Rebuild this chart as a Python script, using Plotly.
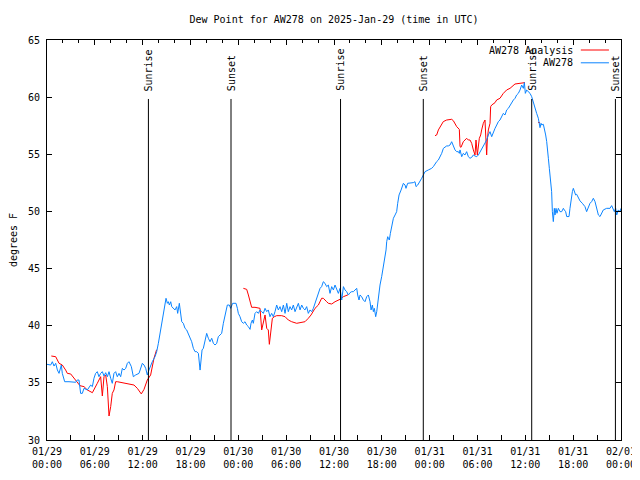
import pandas as pd
import plotly.graph_objects as go

START = "2025-01-29 00:00"
END = "2025-02-01 00:00"
TITLE = "Dew Point for AW278 on 2025-Jan-29 (time in UTC)"
Y_TITLE = "degrees F"

# Observed AW278 dew point: hours after 2025-01-29 00:00 UTC, degrees F
obs_hours = [0.0, 0.46, 0.67, 0.88, 1.09, 1.30, 1.51, 1.71, 1.80, 1.92, 2.22, 2.76, 3.39, 3.60, 3.80, 4.01,
             4.22, 4.43, 4.64, 5.06, 5.48, 5.69, 5.89, 6.10, 6.31, 6.52, 6.73, 6.94, 7.15, 7.36, 7.57, 7.78,
             7.99, 8.19, 8.40, 8.61, 8.82, 9.03, 9.24, 9.45, 9.66, 9.87, 10.08, 10.28, 10.58, 10.83, 11.12,
             11.54, 11.96, 12.17, 12.38, 12.58, 12.79, 13.00, 13.21, 13.55, 13.76, 13.97, 14.18, 14.39,
             14.60, 14.81, 14.93, 15.10, 15.22, 15.35, 15.52, 15.64, 15.85, 16.06, 16.27, 16.39, 16.60,
             16.69, 16.90, 17.10, 17.31, 17.52, 17.73, 17.94, 18.15, 18.36, 18.57, 18.78, 18.99, 19.20,
             19.32, 19.45, 19.61, 19.82, 20.03, 20.24, 20.45, 20.66, 20.87, 21.08, 21.29, 21.49, 21.70,
             21.91, 22.12, 22.33, 22.62, 22.87, 23.04, 23.29, 23.71, 23.88, 24.00, 24.21, 24.42, 24.63,
             24.84, 25.05, 25.26, 25.47, 25.59, 25.76, 25.88, 26.09, 26.30, 26.51, 26.72, 26.93, 27.14,
             27.35, 27.56, 27.76, 27.97, 28.18, 28.39, 28.60, 28.81, 29.02, 29.23, 29.44, 29.65, 29.86,
             30.07, 30.27, 30.48, 30.69, 30.90, 31.11, 31.32, 31.53, 31.74, 31.95, 32.16, 32.36, 32.57,
             32.78, 32.99, 33.20, 33.41, 33.62, 33.83, 34.04, 34.25, 34.45, 34.66, 34.87, 35.08, 35.29,
             35.50, 35.71, 35.92, 36.13, 36.34, 36.55, 36.76, 36.97, 37.18, 37.38, 37.59, 37.80, 38.01,
             38.22, 38.43, 38.72, 38.85, 38.97, 39.14, 39.27, 39.47, 39.68, 39.89, 40.10, 40.31, 40.52,
             40.65, 40.81, 40.94, 41.06, 41.23, 41.36, 41.56, 41.77, 41.98, 42.19, 42.40, 42.53, 42.61,
             42.74, 42.82, 42.94, 43.07, 43.24, 43.45, 43.66, 43.86, 43.99, 44.16, 44.41, 44.70, 44.91,
             45.03, 45.24, 45.54, 45.95, 46.16, 46.29, 46.50, 46.79, 47.00, 47.21, 47.42, 47.84, 48.25,
             48.46, 48.67, 48.88, 49.09, 49.30, 49.51, 49.72, 49.93, 50.13, 50.34, 50.55, 50.76, 50.89,
             50.97, 51.18, 51.39, 51.60, 51.72, 51.81, 52.02, 52.22, 52.43, 52.64, 52.85, 53.06, 53.27,
             53.48, 53.69, 53.90, 54.11, 54.32, 54.52, 54.73, 54.94, 55.15, 55.36, 55.57, 55.78, 55.99,
             56.20, 56.41, 56.61, 56.82, 57.03, 57.24, 57.45, 57.66, 57.87, 58.08, 58.29, 58.50, 58.71,
             58.91, 59.12, 59.33, 59.54, 59.75, 59.88, 60.00, 60.17, 60.38, 60.59, 60.80, 61.01, 61.22,
             61.42, 61.63, 61.76, 61.84, 61.97, 62.05, 62.26, 62.38, 62.55, 62.68, 62.80, 62.89, 63.01,
             63.10, 63.22, 63.30, 63.39, 63.51, 63.64, 63.72, 63.85, 63.97, 64.14, 64.35, 64.56, 64.77,
             64.89, 65.06, 65.19, 65.48, 65.60, 65.73, 65.90, 66.02, 66.15, 66.31, 66.44, 66.65, 66.86,
             67.15, 67.48, 67.69, 67.90, 68.11, 68.32, 68.53, 68.74, 68.95, 69.16, 69.37, 69.58, 69.78,
             70.20, 70.62, 70.83, 71.04, 71.16, 71.33, 71.46, 71.67, 71.88, 72.00]
obs_dewpt = [36.62, 36.56, 36.85, 36.47, 36.71, 36.13, 35.83, 36.27, 36.56, 35.83, 35.10, 35.10, 35.10, 35.05,
             35.25, 35.25, 34.08, 34.08, 34.52, 34.38, 34.81, 34.67, 35.40, 35.83, 35.98, 35.54, 35.83,
             35.98, 35.60, 35.89, 35.54, 35.98, 35.40, 34.96, 35.83, 35.98, 35.54, 35.83, 35.54, 36.27,
             36.12, 36.27, 36.71, 36.85, 36.42, 35.54, 35.69, 35.83, 36.71, 36.56, 36.27, 35.69, 36.12,
             36.56, 36.85, 37.29, 37.73, 38.46, 39.33, 40.21, 41.08, 41.96, 42.40, 41.96, 42.10, 41.81,
             42.10, 41.67, 41.52, 41.38, 41.67, 41.08, 41.96, 41.38, 40.35, 40.21, 39.77, 39.63, 39.33,
             39.04, 38.60, 38.02, 37.73, 37.73, 37.58, 36.12, 37.00, 37.88, 38.02, 38.60, 39.33, 38.90,
             38.60, 38.90, 38.46, 38.31, 38.46, 39.04, 39.19, 39.33, 40.21, 40.94, 41.81, 41.81, 41.52,
             41.96, 41.96, 41.52, 41.08, 40.79, 40.35, 40.21, 40.35, 40.06, 39.92, 39.68, 40.21, 40.50,
             40.21, 41.08, 41.23, 41.08, 41.38, 41.23, 41.08, 41.52, 41.23, 41.38, 40.79, 41.08, 40.79,
             41.23, 41.81, 41.38, 41.67, 41.23, 41.81, 41.08, 41.96, 41.23, 41.67, 41.38, 41.81, 41.23,
             41.67, 41.96, 41.38, 41.81, 41.52, 41.38, 41.67, 41.08, 41.38, 41.23, 41.52, 41.96, 42.54,
             42.98, 43.27, 43.42, 43.85, 43.71, 43.42, 43.56, 42.83, 43.42, 43.13, 43.56, 43.13, 42.83,
             43.27, 42.25, 43.42, 43.13, 42.98, 42.69, 42.89, 42.98, 42.98, 43.13, 43.27, 42.69, 42.25,
             42.69, 42.54, 42.25, 42.10, 42.54, 42.69, 42.10, 41.38, 41.81, 41.23, 41.52, 40.79, 41.23,
             42.54, 43.56, 44.29, 45.17, 45.75, 46.63, 47.35, 47.79, 47.65, 47.50, 48.08, 48.67, 49.40,
             49.69, 49.98, 50.71, 51.44, 51.87, 52.46, 52.31, 52.02, 52.46, 52.46, 52.52, 52.60, 52.17,
             52.31, 52.60, 52.90, 53.19, 53.48, 53.63, 53.77, 53.92, 54.21, 54.36, 54.50, 54.79, 55.08,
             55.52, 55.67, 55.73, 55.73, 55.81, 56.10, 55.81, 55.67, 55.38, 55.23, 55.23, 55.08, 55.38,
             54.79, 55.08, 54.94, 55.23, 54.79, 54.65, 54.73, 54.94, 54.85, 54.79, 54.94, 55.23, 55.38,
             55.67, 56.10, 56.25, 56.69, 56.98, 56.54, 56.98, 57.27, 57.56, 57.85, 58.00, 58.29, 58.58,
             58.44, 58.88, 59.02, 59.31, 59.46, 59.75, 59.90, 60.19, 60.33, 60.62, 61.06, 60.77, 61.27,
             60.33, 60.62, 60.48, 60.33, 60.04, 59.46, 59.02, 58.58, 58.15, 57.42, 57.33, 57.71, 57.57,
             57.62, 57.27, 56.69, 56.11, 55.52, 54.65, 53.77, 53.19, 52.61, 51.73, 49.98, 49.11, 50.27,
             49.69, 50.27, 49.84, 50.27, 49.98, 49.98, 50.27, 50.13, 49.98, 49.55, 49.55, 50.27, 51.15,
             51.73, 52.02, 51.73, 51.44, 51.50, 51.15, 50.92, 50.71, 50.42, 49.98, 50.42, 50.71, 50.86,
             51.15, 50.86, 50.27, 49.69, 49.55, 49.84, 50.13, 50.27, 50.27, 50.51, 50.13, 49.98, 50.27,
             49.69, 50.13, 49.98, 50.27]

# AW278 Analysis dew point (None marks gaps)
ana_hours = [0.54, 1.09, 1.51, 1.92, 2.34, 2.55, 2.97, 3.39, 3.80, 4.14, 4.64, 5.06, 5.69, 5.89, 6.31, 6.73,
             6.94, 7.15, 7.36, 7.57, 7.78, 7.99, 8.19, 8.40, 8.61, 8.82, 9.45, 10.49, 10.91, 11.33, 11.83,
             12.17, 12.58, 13.00, 13.21, 13.42, 13.75, None,
             24.63, 25.05, 25.26, 25.47, 25.67, 26.09, 26.51, 26.72, 26.93, 27.14, 27.35, 27.56, 27.76,
             27.89, 28.10, 28.27, 28.52, 28.81, 29.44, 29.86, 30.27, 30.69, 31.32, 31.74, 32.16, 32.36,
             32.78, 33.12, 33.62, 34.04, 34.45, 34.66, 35.08, 35.29, 35.71, 36.13, 36.76, 37.17, 37.75, None,
             48.67, 48.88, 49.09, 49.30, 49.51, 49.71, 50.13, 50.76, 50.97, 51.39, 51.72, 51.81, 51.93,
             52.22, 52.64, 52.85, 53.06, 53.27, 53.48, 53.69, 53.81, 53.98, 54.23, 54.40, 54.52, 54.73,
             54.94, 55.07, 55.15, 55.23, 55.36, 55.57, 55.65, 55.78, 56.20, 56.40, 56.82, 57.24, 57.66,
             58.08, 58.70, 59.33, 59.96, None,
             61.60, 61.85]
ana_dewpt = [37.35, 37.29, 36.71, 36.56, 36.12, 35.83, 35.78, 35.40, 35.10, 34.75, 34.67, 34.38, 34.14, 34.38,
             34.96, 35.54, 33.85, 35.54, 35.69, 34.67, 32.10, 32.92, 34.08, 34.38, 35.10, 35.10, 35.02,
             34.87, 34.81, 34.52, 34.03, 34.43, 35.25, 35.69, 36.42, 37.15, 37.90, None,
             43.27, 43.18, 42.69, 42.10, 41.61, 41.61, 41.52, 41.52, 39.63, 40.35, 40.94, 39.77, 39.63,
             38.37, 39.63, 40.65, 40.79, 40.88, 40.88, 40.79, 40.50, 40.35, 40.21, 40.27, 40.35, 40.35,
             40.65, 40.94, 41.52, 41.81, 42.40, 42.40, 42.10, 41.96, 41.90, 42.10, 42.31, 42.54, 42.70, None,
             56.63, 56.69, 57.13, 57.42, 57.71, 57.86, 58.00, 58.06, 57.94, 57.42, 57.18, 55.67, 55.61,
             56.10, 56.40, 56.25, 56.25, 55.96, 55.38, 54.94, 56.25, 54.94, 56.40, 56.69, 57.13, 57.71,
             58.00, 55.96, 54.94, 56.25, 57.13, 57.71, 59.17, 59.31, 59.52, 59.75, 59.90, 60.33, 60.63,
             60.77, 61.15, 61.21, 61.27, None,
             57.80, 57.75]

sun_labels = ["Sunrise", "Sunset", "Sunrise", "Sunset", "Sunrise", "Sunset"]
sun_hours = [12.72, 23.08, 36.82, 47.20, 60.80, 71.30]

series_names = ["AW278 Analysis", "AW278"]
series_colors = ["#ff0000", "#0a84ff"]

base = pd.Timestamp(START)


def to_time(hours):
    return [None if h is None else base + pd.Timedelta(hours=h) for h in hours]


FONT = "DejaVu Sans Mono"
HOUR_MS = 3600000

fig = go.Figure()
fig.add_trace(go.Scatter(x=to_time(ana_hours), y=ana_dewpt, mode="lines", name=series_names[0],
                         line=dict(color=series_colors[0], width=1), connectgaps=False, showlegend=False))
fig.add_trace(go.Scatter(x=to_time(obs_hours), y=obs_dewpt, mode="lines", name=series_names[1],
                         line=dict(color=series_colors[1], width=1), showlegend=False))
# helper trace so the top (x2) axis is drawn
fig.add_trace(go.Scatter(x=[START, END], y=[None, None], xaxis="x2", mode="lines",
                         showlegend=False, hoverinfo="skip"))

YMIN, YMAX = 30, 65
LINE_TOP = 59.84

shapes = []
annotations = []
for lab, h in zip(sun_labels, sun_hours):
    t = base + pd.Timedelta(hours=h)
    shapes.append(dict(type="line", xref="x", yref="y", x0=t, x1=t, y0=YMIN, y1=LINE_TOP,
                       line=dict(color="black", width=1)))
    annotations.append(dict(x=t, y=60.35, xref="x", yref="y", text=lab, textangle=-90,
                            showarrow=False, xanchor="center", yanchor="bottom",
                            font=dict(family=FONT, size=10, color="black")))

# gnuplot-style key (text left, sample line right)
key_y = [0.975, 0.943]
for name, col, ky in zip(series_names, series_colors, key_y):
    annotations.append(dict(x=0.919, y=ky, xref="paper", yref="paper", text=name, showarrow=False,
                            xanchor="right", yanchor="middle", font=dict(family=FONT, size=10, color="black")))
    shapes.append(dict(type="line", xref="paper", yref="paper", x0=0.930, x1=0.979, y0=ky, y1=ky,
                       line=dict(color=col, width=1)))

# the page adds an 8px body margin, so the figure margins are reduced by 8px
fig.update_layout(
    width=640, height=480,
    margin=dict(l=39, r=27, t=32, b=48),
    paper_bgcolor="white", plot_bgcolor="white",
    font=dict(family=FONT, size=10, color="black"),
    title=dict(text=TITLE, x=0.5, xref="paper", xanchor="center", y=0.977, yanchor="middle",
               font=dict(family=FONT, size=10, color="black")),
    shapes=shapes, annotations=annotations,
    xaxis=dict(type="date", range=[START, END], tick0=START, dtick=6 * HOUR_MS, automargin=False,
               tickformat="%m/%d<br>%H:%M", ticks="inside", ticklen=5, tickcolor="black",
               ticklabelstandoff=2,
               minor=dict(dtick=3 * HOUR_MS, ticks="inside", ticklen=5, tickcolor="black"),
               showline=True, linecolor="black", linewidth=1, mirror=True,
               showgrid=False, zeroline=False, tickfont=dict(family=FONT, size=10)),
    xaxis2=dict(type="date", range=[START, END], overlaying="x", side="top", tick0=START, automargin=False,
                dtick=6 * HOUR_MS, ticks="inside", ticklen=5, tickcolor="black",
                minor=dict(dtick=2 * HOUR_MS, ticks="inside", ticklen=3, tickcolor="black"),
                showticklabels=False, showline=False, showgrid=False, zeroline=False),
    yaxis=dict(range=[YMIN, YMAX], dtick=5, ticks="inside", ticklen=5, tickcolor="black", automargin=False,
               showline=True, linecolor="black", linewidth=1, mirror="ticks", ticklabelstandoff=4,
               showgrid=False, zeroline=False, tickfont=dict(family=FONT, size=10),
               title=dict(text=Y_TITLE, standoff=13, font=dict(family=FONT, size=10))),
)

fig.write_html("out.html")
